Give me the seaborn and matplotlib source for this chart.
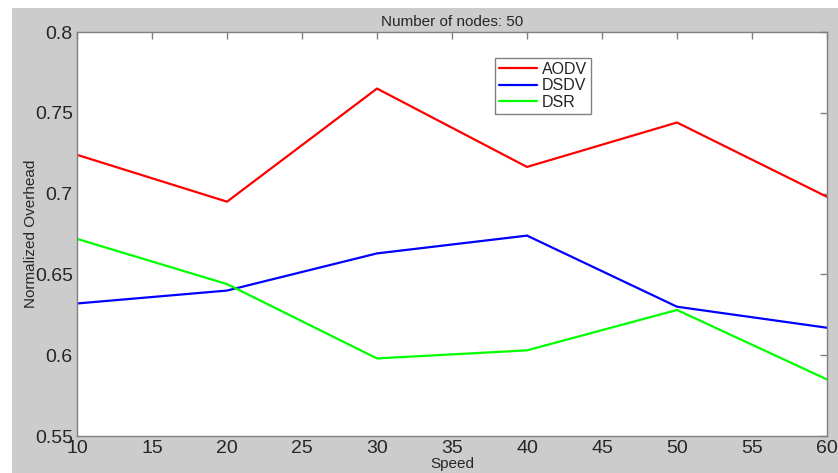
import pandas as pd
import seaborn as sns
import matplotlib.pyplot as plt
from matplotlib.patches import Rectangle

# values
speed = [10, 20, 30, 40, 50, 60]
aodv = [0.724, 0.695, 0.765, 0.7165, 0.744, 0.698]
dsdv = [0.632, 0.640, 0.663, 0.674, 0.630, 0.617]
dsr = [0.672, 0.644, 0.598, 0.603, 0.628, 0.585]
protocols = ["AODV", "DSDV", "DSR"]
colors = ["#ff0000", "#0000ff", "#00ff00"]

df = pd.DataFrame({
    "Speed": speed * 3,
    "Overhead": aodv + dsdv + dsr,
    "Protocol": [p for p in protocols for _ in speed],
})

sns.set_style("white")
plt.rcParams["font.family"] = ["Liberation Sans", "DejaVu Sans"]

fig = plt.figure(figsize=(8.38, 4.73), dpi=100)
fig.patch.set_facecolor("white")
# grey MATLAB-like figure background, offset from top/left edge
fig.patches.append(Rectangle((12 / 838, 0), 1, 1 - 8 / 473, transform=fig.transFigure,
                             facecolor="#cccccc", edgecolor="none", zorder=-10))

ax = fig.add_axes([77 / 838, 1 - 436 / 473, 750 / 838, 404 / 473])
ax.set_facecolor("white")

sns.lineplot(data=df, x="Speed", y="Overhead", hue="Protocol", palette=colors,
             linewidth=1.6, ax=ax)

ax.set_xlim(10, 60)
ax.set_ylim(0.55, 0.8)
ax.set_xticks(range(10, 61, 5))
ax.set_yticks([0.55, 0.6, 0.65, 0.7, 0.75, 0.8])
ax.set_yticklabels(["0.55", "0.6", "0.65", "0.7", "0.75", "0.8"])

for s in ax.spines.values():
    s.set_color("#808080")
    s.set_linewidth(1.0)
ax.tick_params(direction="in", length=5, width=1, color="#808080",
               top=True, right=True, labelsize=14, pad=3)

ax.set_title("Number of nodes: 50", fontsize=11, pad=4)
ax.set_xlabel("Speed", fontsize=11, labelpad=0)
ax.set_ylabel("Normalized Overhead", fontsize=11)
ax.yaxis.set_label_coords(-0.052, 0.5)

leg = ax.legend(loc="upper left", bbox_to_anchor=(0.557, 0.936), fontsize=11.5,
                handlelength=2.4, handletextpad=0.3, borderpad=0.25,
                labelspacing=0.1, borderaxespad=0, fancybox=False, framealpha=1)
leg.get_frame().set_edgecolor("#808080")
leg.get_frame().set_linewidth(1.0)

plt.savefig("out.png", dpi=100)
plt.close()
